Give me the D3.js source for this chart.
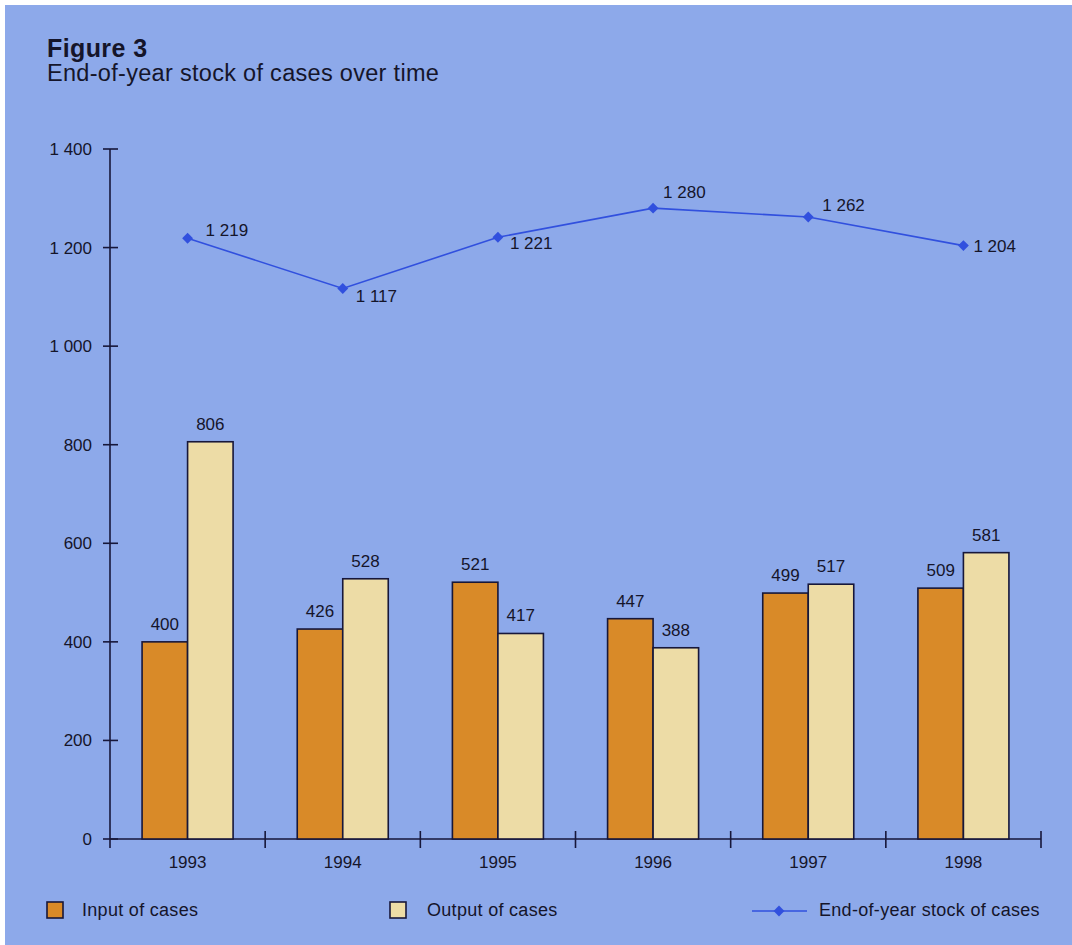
<!DOCTYPE html>
<html>
<head>
<meta charset="utf-8">
<script src="https://cdn.jsdelivr.net/npm/d3@7"></script>
<style>
  html, body { margin: 0; padding: 0; background: #ffffff; }
  svg { display: block; }
  text { font-family: "Liberation Sans", Arial, Helvetica, sans-serif; fill: #15152a; }
</style>
</head>
<body>
<svg id="chart" width="1072" height="945"></svg>
<script>
// Data
const years = ["1993", "1994", "1995", "1996", "1997", "1998"];
const inputCases = [400, 426, 521, 447, 499, 509];
const outputCases = [806, 528, 417, 388, 517, 581];
const stockCases = [1219, 1117, 1221, 1280, 1262, 1204];
const yTicks = [0, 200, 400, 600, 800, 1000, 1200, 1400];
const seriesNames = ["Input of cases", "Output of cases", "End-of-year stock of cases"];

(function () {
  const W = 1072, H = 945;
  const colors = {
    bg: "#8da9ea",
    input: "#d98a28",
    output: "#eddca6",
    stroke: "#17173a",
    line: "#3150de"
  };

  // Offsets of the stock value labels from their markers: [dx, dy]
  const stockLabelOffset = [[18, -2], [13, 14], [12, 12], [10, -10], [14, -6], [10, 6]];

  const svg = d3.select("#chart");

  // Background panel with thin white margin at top and left
  svg.append("rect").attr("x", 0).attr("y", 0).attr("width", W).attr("height", H).attr("fill", "#ffffff");
  svg.append("rect").attr("x", 5).attr("y", 5).attr("width", W - 5).attr("height", H - 5).attr("fill", colors.bg);

  // Titles
  svg.append("text").attr("x", 47).attr("y", 57)
    .style("font-size", "25px").style("font-weight", "bold").style("letter-spacing", "0.4px").text("Figure 3");
  svg.append("text").attr("x", 47).attr("y", 81)
    .style("font-size", "23.5px").style("letter-spacing", "0.3px").text("End-of-year stock of cases over time");

  // Scales
  const plotLeft = 110, plotRight = 1041, plotTop = 149, plotBottom = 839;
  const x = d3.scaleBand().domain(years).range([plotLeft, plotRight]).paddingInner(0).paddingOuter(0);
  const x1 = d3.scaleBand().domain(["in", "out"]).range([0, x.bandwidth()]).paddingOuter(0.705).paddingInner(0);
  const y = d3.scaleLinear().domain([0, 1400]).range([plotBottom, plotTop]);
  const fmt = v => d3.format(",")(v).replace(/,/g, " ");

  // Y axis
  const yAxis = svg.append("g").attr("transform", `translate(${plotLeft},0)`);
  yAxis.append("line").attr("x1", 0).attr("x2", 0).attr("y1", plotTop).attr("y2", plotBottom + 9)
    .attr("stroke", colors.stroke).attr("stroke-width", 1.6);
  yAxis.selectAll("line.tick").data(yTicks).join("line")
    .attr("class", "tick")
    .attr("x1", -7).attr("x2", 8)
    .attr("y1", d => y(d)).attr("y2", d => y(d))
    .attr("stroke", colors.stroke).attr("stroke-width", 1.6);
  yAxis.selectAll("text").data(yTicks).join("text")
    .attr("x", -18).attr("y", d => y(d)).attr("dy", "0.35em")
    .attr("text-anchor", "end").style("font-size", "17px")
    .text(d => fmt(d));

  // X axis
  const xAxis = svg.append("g").attr("transform", `translate(0,${plotBottom})`);
  xAxis.append("line").attr("x1", plotLeft).attr("x2", plotRight).attr("y1", 0).attr("y2", 0)
    .attr("stroke", colors.stroke).attr("stroke-width", 1.6);
  const boundaries = years.slice(1).map(d => x(d)).concat([x(years[years.length - 1]) + x.bandwidth()]);
  xAxis.selectAll("line.tick").data(boundaries).join("line")
    .attr("class", "tick")
    .attr("x1", d => d).attr("x2", d => d).attr("y1", -8).attr("y2", 9)
    .attr("stroke", colors.stroke).attr("stroke-width", 1.6);
  xAxis.selectAll("text").data(years).join("text")
    .attr("x", d => x(d) + x.bandwidth() / 2).attr("y", 29)
    .attr("text-anchor", "middle").style("font-size", "17px").text(d => d);

  // Bars
  const groups = svg.append("g").selectAll("g").data(years).join("g")
    .attr("transform", d => `translate(${x(d)},0)`);

  groups.append("rect")
    .attr("x", x1("in")).attr("width", x1.bandwidth())
    .attr("y", (d, i) => y(inputCases[i])).attr("height", (d, i) => y(0) - y(inputCases[i]))
    .attr("fill", colors.input).attr("stroke", colors.stroke).attr("stroke-width", 1.6);
  groups.append("rect")
    .attr("x", x1("out")).attr("width", x1.bandwidth())
    .attr("y", (d, i) => y(outputCases[i])).attr("height", (d, i) => y(0) - y(outputCases[i]))
    .attr("fill", colors.output).attr("stroke", colors.stroke).attr("stroke-width", 1.6);

  groups.append("text")
    .attr("x", x1("in") + x1.bandwidth() / 2).attr("y", (d, i) => y(inputCases[i]) - 12)
    .attr("text-anchor", "middle").style("font-size", "17px").text((d, i) => inputCases[i]);
  groups.append("text")
    .attr("x", x1("out") + x1.bandwidth() / 2).attr("y", (d, i) => y(outputCases[i]) - 12)
    .attr("text-anchor", "middle").style("font-size", "17px").text((d, i) => outputCases[i]);

  // Stock line
  const cx = i => x(years[i]) + x.bandwidth() / 2;
  const stockLine = d3.line().x((d, i) => cx(i)).y(d => y(d));
  svg.append("path").datum(stockCases).attr("d", stockLine)
    .attr("fill", "none").attr("stroke", colors.line).attr("stroke-width", 1.6);

  const diamond = d3.symbol().type(d3.symbolDiamond2).size(75);
  svg.append("g").selectAll("path").data(stockCases).join("path")
    .attr("d", diamond)
    .attr("transform", (d, i) => `translate(${cx(i)},${y(d)})`)
    .attr("fill", colors.line);

  svg.append("g").selectAll("text").data(stockCases).join("text")
    .attr("x", (d, i) => cx(i) + stockLabelOffset[i][0])
    .attr("y", (d, i) => y(d) + stockLabelOffset[i][1])
    .style("font-size", "17px").text(d => fmt(d));

  // Legend
  const lg = svg.append("g");
  const ly = 910;
  lg.append("rect").attr("x", 47).attr("y", ly - 8).attr("width", 16).attr("height", 16)
    .attr("fill", colors.input).attr("stroke", colors.stroke).attr("stroke-width", 1.6);
  lg.append("text").attr("x", 82).attr("y", ly).attr("dy", "0.35em")
    .style("font-size", "18px").style("letter-spacing", "0.3px").text(seriesNames[0]);
  lg.append("rect").attr("x", 390).attr("y", ly - 8).attr("width", 16).attr("height", 16)
    .attr("fill", colors.output).attr("stroke", colors.stroke).attr("stroke-width", 1.6);
  lg.append("text").attr("x", 427).attr("y", ly).attr("dy", "0.35em")
    .style("font-size", "18px").style("letter-spacing", "0.3px").text(seriesNames[1]);
  lg.append("line").attr("x1", 752).attr("x2", 807).attr("y1", ly + 1).attr("y2", ly + 1)
    .attr("stroke", colors.line).attr("stroke-width", 1.6);
  lg.append("path").attr("d", diamond).attr("transform", `translate(779,${ly + 1})`).attr("fill", colors.line);
  lg.append("text").attr("x", 819).attr("y", ly).attr("dy", "0.35em")
    .style("font-size", "18px").style("letter-spacing", "0.3px").text(seriesNames[2]);
})();
</script>
</body>
</html>
